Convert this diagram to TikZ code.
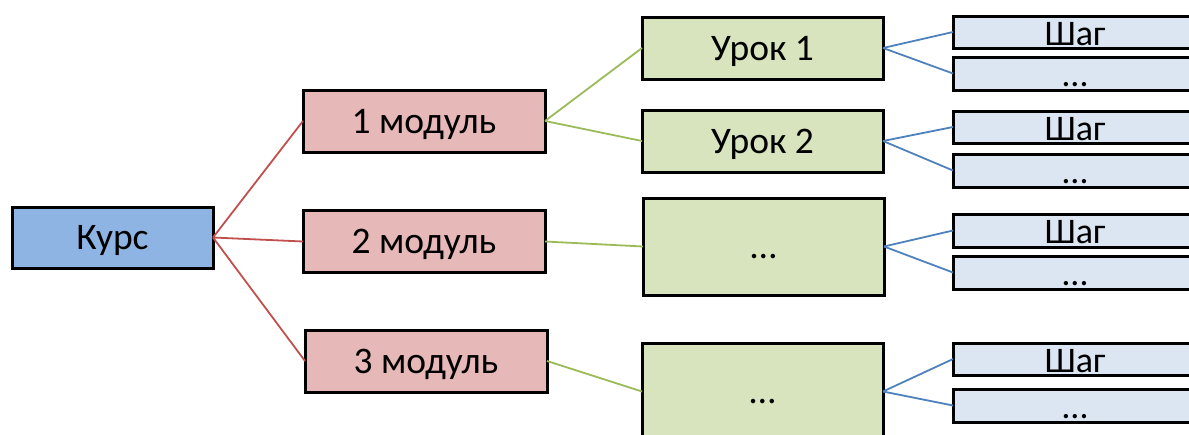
\documentclass[tikz,border=0pt]{standalone}
\usepackage{fontspec}
\setmainfont{Carlito}
\definecolor{kfill}{HTML}{8EB4E3}
\definecolor{mfill}{HTML}{E6B9B8}
\definecolor{ufill}{HTML}{D7E4BD}
\definecolor{sfill}{HTML}{DCE6F2}
\definecolor{redline}{HTML}{C0504D}
\definecolor{greenline}{HTML}{9BBB59}
\definecolor{blueline}{HTML}{4F81BD}
\begin{document}
\begin{tikzpicture}[x=1pt,y=-1pt,
  box/.style={draw=black, line width=3pt, rectangle, inner sep=0pt, outer sep=0pt,
    font=\fontsize{37.5}{42}\selectfont, text height=24pt, text depth=0pt},
  kursbox/.style={box, fill=kfill, minimum width=201pt, minimum height=61pt},
  modbox/.style={box, fill=mfill, minimum width=242pt, minimum height=62pt},
  lessbox/.style={box, fill=ufill, minimum width=241pt, minimum height=62pt},
  bigbox/.style={box, fill=ufill, minimum width=241pt, minimum height=97pt},
  stepbox/.style={box, fill=sfill, minimum width=244pt, minimum height=32pt,
    font=\fontsize{36}{40}\selectfont, text height=26pt},
  rl/.style={draw=redline, line width=1.8pt},
  gl/.style={draw=greenline, line width=1.8pt},
  bl/.style={draw=blueline, line width=1.8pt}]
\useasboundingbox (0,0) rectangle (1189,434);
\node[kursbox] (k) at (112.5,237.5) {Курс};
\node[modbox] (m1) at (424,121) {1 модуль};
\node[modbox] (m2) at (424,241.5) {2 модуль};
\node[modbox] (m3) at (426,361) {3 модуль};
\node[lessbox] (u1) at (762.5,48) {Урок 1};
\node[lessbox] (u2) at (762.5,141) {Урок 2};
\node[bigbox] (u3) at (763.5,246.5) {…};
\node[bigbox] (u4) at (762.5,391.5) {…};
\node[stepbox] (s1a) at (1075,32) {Шаг};
\node[stepbox, minimum height=33pt] (s1b) at (1075,73.5) {…};
\node[stepbox] (s2a) at (1075,127) {Шаг};
\node[stepbox, minimum height=33pt] (s2b) at (1075,170.5) {…};
\node[stepbox, minimum height=33pt] (s3a) at (1075,230.5) {Шаг};
\node[stepbox, minimum height=33pt] (s3b) at (1075,272.5) {…};
\node[stepbox] (s4a) at (1075,359) {Шаг};
\node[stepbox, minimum height=33pt] (s4b) at (1075,405.5) {…};
\draw[rl] (k.east) -- (m1.west);
\draw[rl] (k.east) -- (m2.west);
\draw[rl] (k.east) -- (m3.west);
\draw[gl] (m1.east) -- (u1.west);
\draw[gl] (m1.east) -- (u2.west);
\draw[gl] (m2.east) -- (u3.west);
\draw[gl] (m3.east) -- (u4.west);
\draw[bl] (u1.east) -- (s1a.west);
\draw[bl] (u1.east) -- (s1b.west);
\draw[bl] (u2.east) -- (s2a.west);
\draw[bl] (u2.east) -- (s2b.west);
\draw[bl] (u3.east) -- (s3a.west);
\draw[bl] (u3.east) -- (s3b.west);
\draw[bl] (u4.east) -- (s4a.west);
\draw[bl] (u4.east) -- (s4b.west);
\end{tikzpicture}
\end{document}
